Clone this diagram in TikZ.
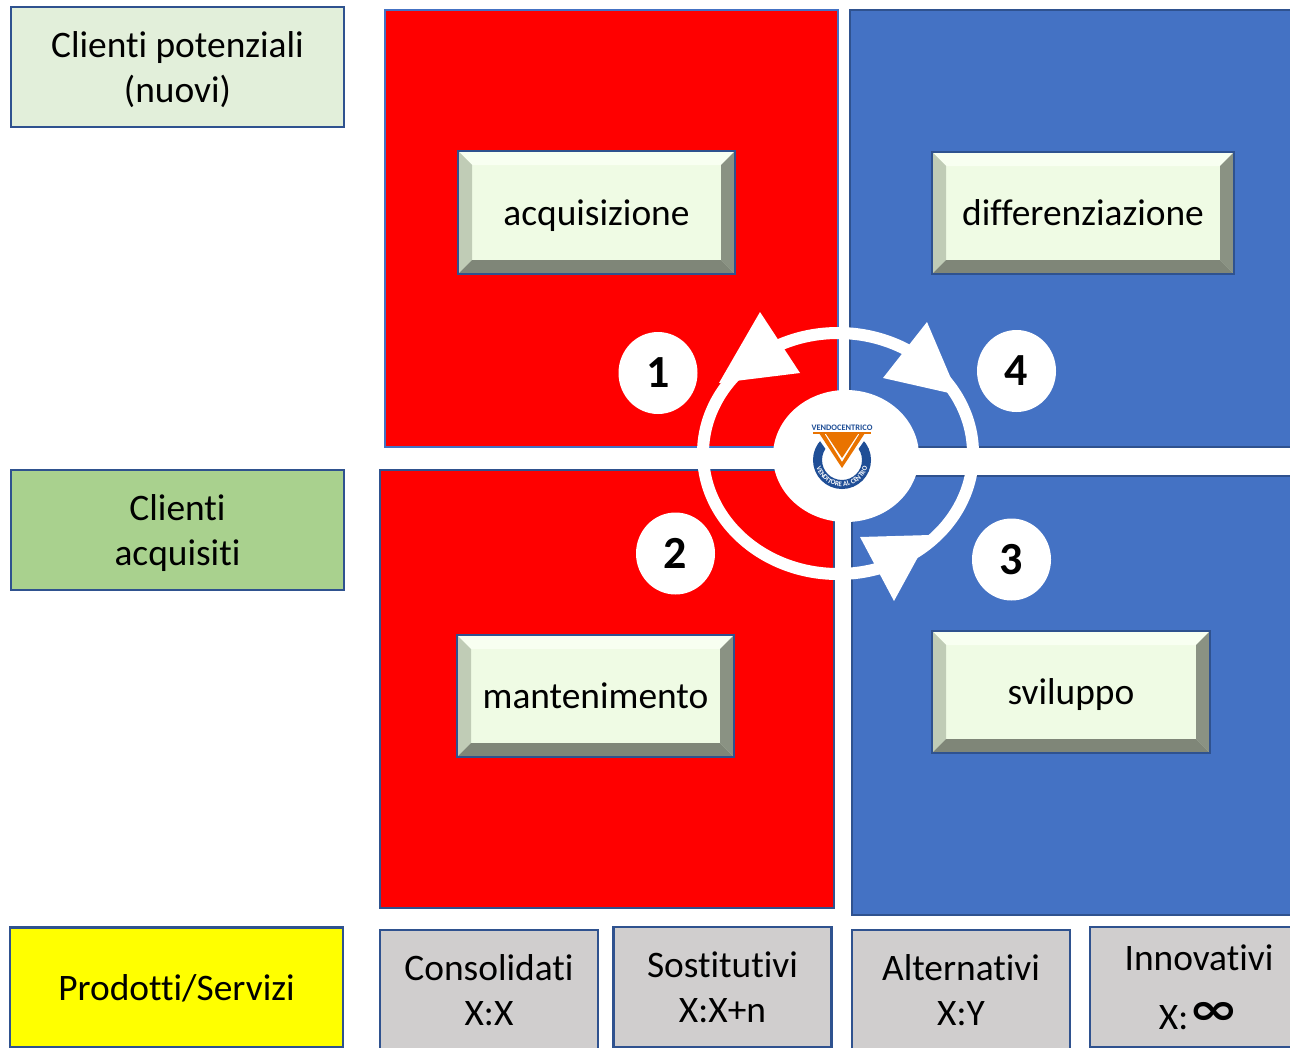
\documentclass[tikz,border=0pt]{standalone}
\usepackage{fontspec}
\setmainfont[Ligatures=NoCommon]{Carlito}
\newfontfamily\symfont{DejaVu Sans}
\usetikzlibrary{calc,decorations.text,shapes.geometric}

\definecolor{edgeblue}{HTML}{2F528F}
\definecolor{panelblue}{HTML}{4472C4}
\definecolor{palegreen}{HTML}{E2EFDA}
\definecolor{midgreen}{HTML}{A9D18E}
\definecolor{prodyellow}{HTML}{FFFF00}
\definecolor{greybox}{HTML}{D0CECE}
\definecolor{btnface}{HTML}{EFFBE4}
\definecolor{btntop}{HTML}{F8FFF1}
\definecolor{btnleft}{HTML}{C0CCB6}
\definecolor{btnright}{HTML}{8A9283}
\definecolor{btnbottom}{HTML}{7F8678}
\definecolor{logoblue}{HTML}{1F4E96}
\definecolor{logoorange}{HTML}{E97300}

\newcommand{\tstrut}{\vrule height 45pt depth 0pt width 0pt}
\newcommand{\bstrut}{\vrule height 0pt depth 20pt width 0pt}

\tikzset{
  txt/.style={font=\fontsize{37.4}{45}\selectfont,align=center,text=black},
  labelbox/.style={txt,draw=edgeblue,line width=2.2pt,minimum width=333pt,minimum height=120pt,inner sep=0pt,outer sep=0pt},
  prodbox/.style={txt,draw=edgeblue,fill=greybox,line width=2.2pt,minimum width=218pt,minimum height=120pt,inner sep=0pt,outer sep=0pt},
  panel/.style={draw=edgeblue,line width=2.2pt,inner sep=0pt,outer sep=0pt},
  numdot/.style={ellipse,fill=white,minimum width=79pt,minimum height=82pt,inner sep=0pt,font=\fontsize{46}{46}\selectfont\bfseries},
  bevelbox/.style={txt,draw=edgeblue,line width=2.2pt,fill=btnface,inner sep=0pt,outer sep=0pt,
    path picture={
      \coordinate (nw) at (path picture bounding box.north west);
      \coordinate (ne) at (path picture bounding box.north east);
      \coordinate (sw) at (path picture bounding box.south west);
      \coordinate (se) at (path picture bounding box.south east);
      \fill[btntop] (nw) -- (ne) -- ++(-14pt,-14pt) -- ($(nw)+(14pt,-14pt)$) -- cycle;
      \fill[btnleft] (nw) -- ($(nw)+(14pt,-14pt)$) -- ($(sw)+(14pt,14pt)$) -- (sw) -- cycle;
      \fill[btnright] (ne) -- ($(ne)+(-14pt,-14pt)$) -- ($(se)+(-14pt,14pt)$) -- (se) -- cycle;
      \fill[btnbottom] (sw) -- ($(sw)+(14pt,14pt)$) -- ($(se)+(-14pt,14pt)$) -- (se) -- cycle;
    }},
}

\begin{document}
\begin{tikzpicture}[x=1pt,y=-1pt]
\clip (0,0) rectangle (1290,1047);

% left column
\node (potenziali) at (177.5,67) [labelbox,fill=palegreen] {\tstrut Clienti potenziali\\(nuovi)\bstrut};
\node (acquisiti) at (177.5,530) [labelbox,fill=midgreen] {\tstrut Clienti\\acquisiti\bstrut};
\node (prodotti) at (176.5,987.5) [labelbox,fill=prodyellow] {\tstrut Prodotti/Servizi\bstrut};

% panels
\node (redtop) at (611.5,228.5) [panel,draw=panelblue,fill=red,minimum width=453pt,minimum height=437pt] {};
\node (bluetop) at (1075,228.5) [panel,fill=panelblue,minimum width=450pt,minimum height=437pt] {};
\node (redbot) at (607,689) [panel,fill=red,minimum width=454pt,minimum height=438pt] {};
\node (bluebot) at (1076,695.5) [panel,fill=panelblue,minimum width=448pt,minimum height=439pt] {};

% buttons
\node (acquisizione) at (596.5,212.5) [bevelbox,minimum width=277pt,minimum height=123pt] {\tstrut acquisizione\bstrut};
\node (differenziazione) at (1083,213) [bevelbox,minimum width=302pt,minimum height=122pt] {\tstrut differenziazione\bstrut};
\node (mantenimento) at (595.5,696) [bevelbox,minimum width=277pt,minimum height=122pt] {\tstrut mantenimento\bstrut};
\node (sviluppo) at (1071,692) [bevelbox,minimum width=278pt,minimum height=122pt] {\tstrut sviluppo\bstrut};

% bottom row
\node (consolidati) at (489,990) [prodbox] {\tstrut Consolidati\\X:X\bstrut};
\node (sostitutivi) at (722.5,987) [prodbox] {\tstrut Sostitutivi\\X:X+n\bstrut};
\node (alternativi) at (961,990) [prodbox] {\tstrut Alternativi\\X:Y\bstrut};
\node (innovativi) at (1199,987) [prodbox] {Innovativi\\[14pt]X:\raisebox{5pt}{\scalebox{1.6}[1.15]{\symfont\bfseries\fontsize{38}{38}\selectfont ∞}}};

% ring and arrow heads
\draw[white,line width=12pt] (838,453.5) ellipse [x radius=135pt,y radius=120.5pt];
\fill[white] (760,312) -- (719,383) -- (800,373) -- cycle;
\fill[white] (927,322) -- (883,378) -- (958,395) -- cycle;
\fill[white] (860,537) -- (930,535) -- (894,601) -- cycle;

% numbers
\node (one) at (658,373) [numdot] {1};
\node (two) at (675.5,553.5) [numdot] {2};
\node (three) at (1011.5,559.5) [numdot] {3};
\node (four) at (1016.5,371) [numdot] {4};

% logo
\fill[white] (846,456) ellipse [x radius=73pt,y radius=66pt];
\draw[logoblue,line width=9pt] (842,460) circle [radius=24.5pt];
\fill[white] (813,431) -- (871,431) -- (842,472) -- cycle;
\fill[logoorange] (819,433) -- (824,433) -- (842,462) -- (860,433) -- (865,433) -- (842,468) -- cycle;
\fill[logoorange] (826,434) -- (858,434) -- (842,458) -- cycle;
\draw[logoorange,line width=1.8pt] (813,433) -- (871,433);
\node (logoname) at (842,428) [text=logoblue,inner sep=0pt,font=\fontsize{8.4}{9}\selectfont\bfseries] {VENDOCENTRICO};
\path[decorate,decoration={text along path,text align=center,
  text={|\fontsize{7}{7}\selectfont\bfseries\color{white}|VENDITORE AL CENTRO}}]
  ([shift={(185:26.5pt)}]842,460) arc [start angle=185,end angle=355,radius=26.5pt];

\end{tikzpicture}
\end{document}
